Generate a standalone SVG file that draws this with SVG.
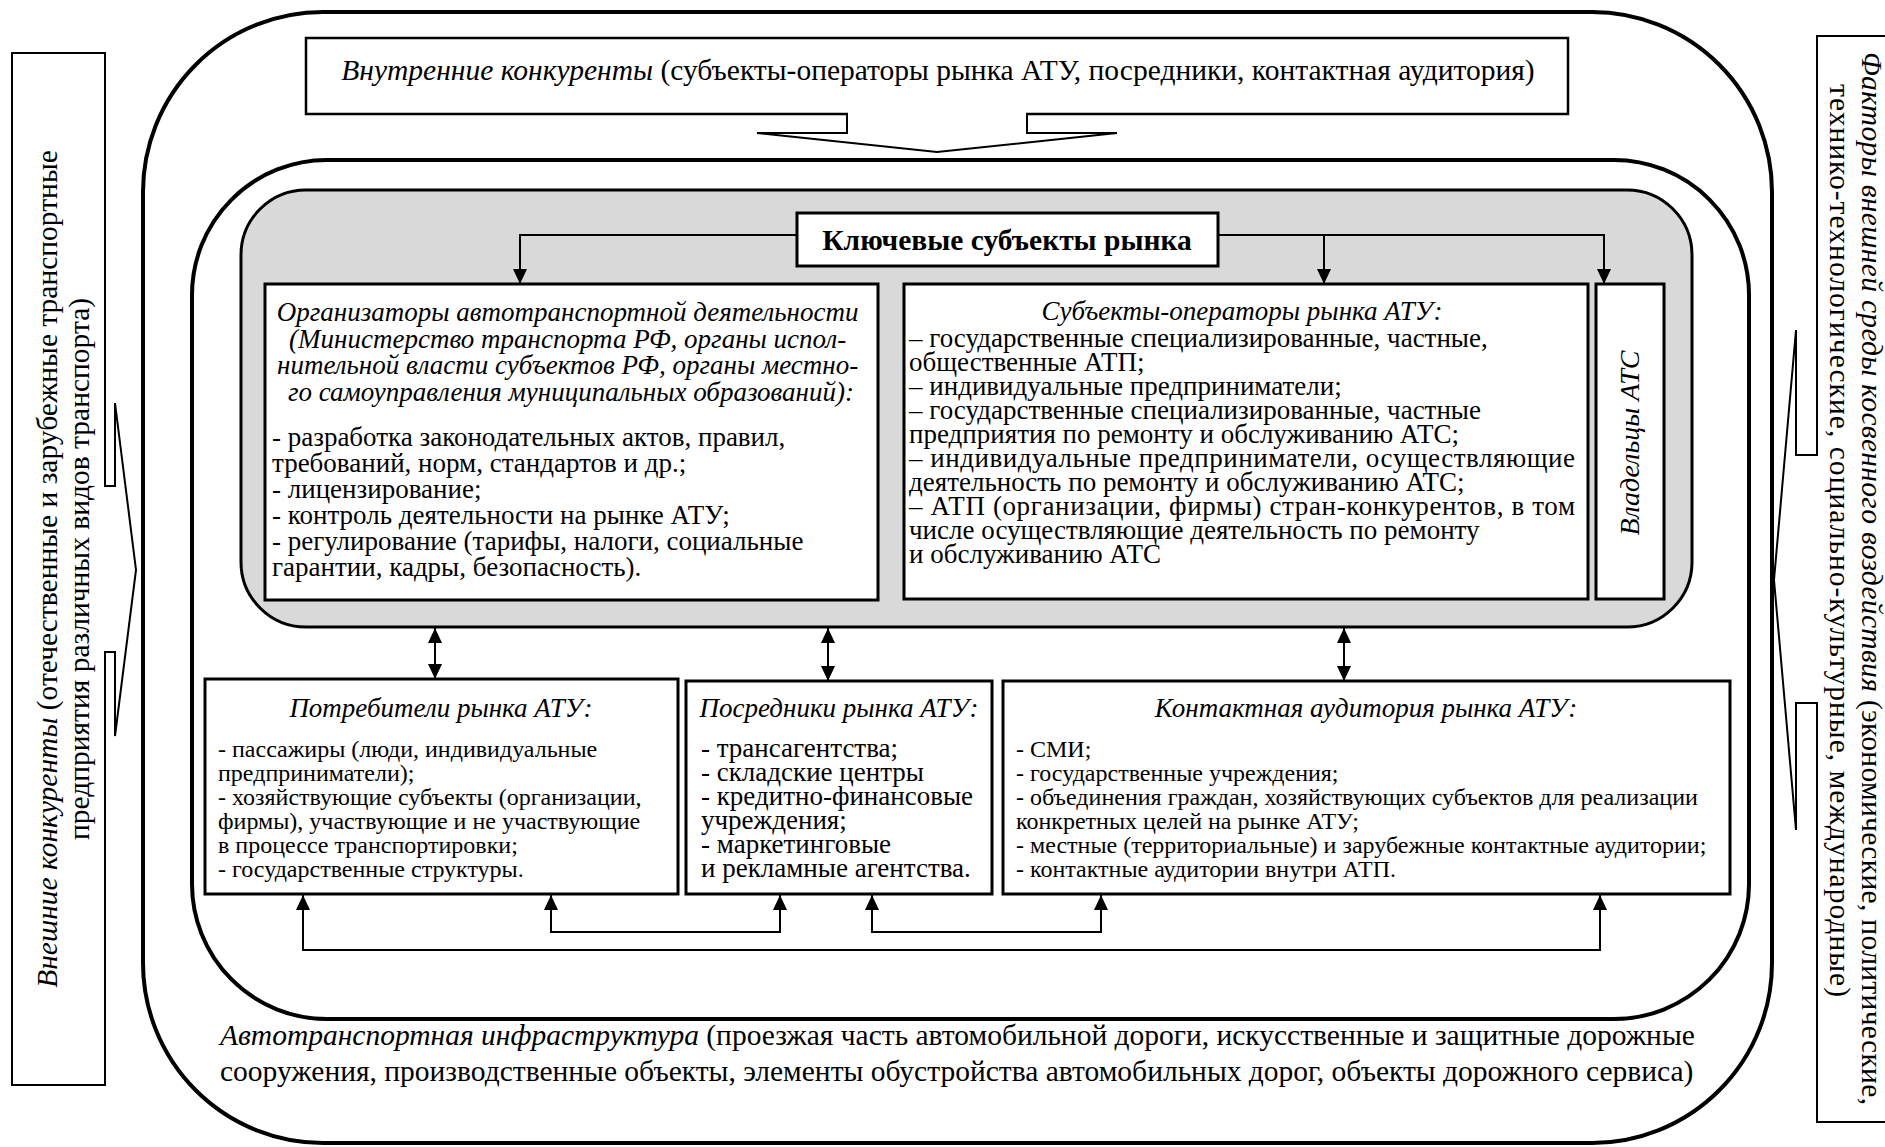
<svg xmlns="http://www.w3.org/2000/svg" width="1885" height="1147" viewBox="0 0 1885 1147">
<defs>
<style>
text{font-family:"Liberation Serif","Times New Roman",serif;fill:#000}
.i{font-style:italic}
.b{font-weight:bold}
.f30{font-size:29.5px}
.f27{font-size:27px}
.f24{font-size:24px}
.box{fill:#fff;stroke:#000;stroke-width:2.5}
.thin{fill:#fff;stroke:#000;stroke-width:2}
.ring{fill:none;stroke:#000;stroke-width:4}
.con{fill:none;stroke:#000;stroke-width:2}
.ar{fill:none;stroke:#000;stroke-width:2;stroke-linejoin:miter}
.node{fill:#fff;stroke:#000;stroke-width:3}
</style>
<marker id="ah" viewBox="0 0 15 14" refX="15" refY="7" markerWidth="15" markerHeight="14" markerUnits="userSpaceOnUse" orient="auto-start-reverse">
<path d="M0,0 L15,7 L0,14 z" fill="#000"/>
</marker>
</defs>
<rect width="1885" height="1147" fill="#fff"/>

<g id="outer-ring">
<rect class="ring" x="143" y="12" width="1629" height="1131" rx="180" ry="180"/>
</g>
<g id="middle-ring">
<rect class="ring" x="192" y="160" width="1557" height="859" rx="135" ry="135"/>
</g>
<g id="key-area">
<rect x="241" y="190" width="1451" height="437" rx="65" ry="65" fill="#d9d9d9" stroke="#000" stroke-width="3"/>
</g>

<g id="external-competitors">
<rect class="thin" x="12" y="53" width="93" height="1032"/>
<rect x="103" y="487" width="4" height="164" fill="#fff"/>
<polyline class="ar" points="105,486 115,486 115,403 136,570 115,736 115,652 105,652"/>
<text class="f30" transform="translate(57,569) rotate(-90)" text-anchor="middle"><tspan class="i">Внешние конкуренты</tspan> (отечественные и зарубежные транспортные</text>
<text class="f30" transform="translate(89,569) rotate(-90)" text-anchor="middle">предприятия различных видов транспорта)</text>
</g>

<g id="environment-factors">
<rect class="thin" x="1817" y="36" width="80" height="1086"/>
<rect x="1815" y="456" width="4" height="246" fill="#fff"/>
<polyline class="ar" points="1817,455 1796,455 1796,330 1774,580 1796,830 1796,703 1817,703"/>
<text class="f30" transform="translate(1862,52) rotate(90)" textLength="1053" lengthAdjust="spacing"><tspan class="i">Факторы внешней среды косвенного воздействия</tspan> (экономические, политические,</text>
<text class="f30" transform="translate(1830,84) rotate(90)" textLength="913" lengthAdjust="spacing">технико-технологические, социально-культурные, международные)</text>
</g>

<g id="internal-competitors">
<rect class="box" x="306" y="38" width="1262" height="76"/>
<rect x="848" y="111" width="178" height="6" fill="#fff"/>
<polyline class="ar" points="847,114 847,133 757,133 937,152 1117,133 1027,133 1027,114"/>
<text class="f30" x="938" y="80" text-anchor="middle"><tspan class="i">Внутренние конкуренты</tspan> (субъекты-операторы рынка АТУ, посредники, контактная аудитория)</text>
</g>

<g id="connectors">
<path class="con" d="M797,235 H520 V284" marker-end="url(#ah)"/>
<path class="con" d="M1218,235 H1604 V284" marker-end="url(#ah)"/>
<path class="con" d="M1324,235 V284" marker-end="url(#ah)"/>
<path class="con" d="M435,628 V679" marker-start="url(#ah)" marker-end="url(#ah)"/>
<path class="con" d="M828,628 V681" marker-start="url(#ah)" marker-end="url(#ah)"/>
<path class="con" d="M1344,628 V681" marker-start="url(#ah)" marker-end="url(#ah)"/>
<path class="con" d="M303,895 V950 H1600 V895" marker-start="url(#ah)" marker-end="url(#ah)"/>
<path class="con" d="M551,895 V932 H780 V895" marker-start="url(#ah)" marker-end="url(#ah)"/>
<path class="con" d="M872,895 V932 H1101 V895" marker-start="url(#ah)" marker-end="url(#ah)"/>
</g>

<g id="key-subjects">
<rect class="node" x="797" y="213" width="421" height="53"/>
<text class="f30 b" x="1007" y="250" text-anchor="middle">Ключевые субъекты рынка</text>
</g>

<g id="organizers">
<rect class="node" x="265" y="284" width="613" height="316"/>
<text class="f27 i" text-anchor="middle">
<tspan x="571" y="321">Организаторы автотранспортной деятельности</tspan>
<tspan x="571" y="347.5">(Министерство транспорта РФ, органы испол-</tspan>
<tspan x="571" y="374">нительной власти субъектов РФ, органы местно-</tspan>
<tspan x="571" y="400.5">го самоуправления муниципальных образований):</tspan>
</text>
<text class="f27">
<tspan x="272" y="446">- разработка законодательных актов, правил,</tspan>
<tspan x="272" y="472">требований, норм, стандартов и др.;</tspan>
<tspan x="272" y="498">- лицензирование;</tspan>
<tspan x="272" y="524">- контроль деятельности на рынке АТУ;</tspan>
<tspan x="272" y="550">- регулирование (тарифы, налоги, социальные</tspan>
<tspan x="272" y="576">гарантии, кадры, безопасность).</tspan>
</text>
</g>

<g id="operators">
<rect class="node" x="904" y="284" width="684" height="315"/>
<text class="f27 i" x="1242" y="320" text-anchor="middle">Субъекты-операторы рынка АТУ:</text>
<text class="f27">
<tspan x="909" y="347">– государственные специализированные, частные,</tspan>
<tspan x="909" y="371">общественные АТП;</tspan>
<tspan x="909" y="395">– индивидуальные предприниматели;</tspan>
<tspan x="909" y="419">– государственные специализированные, частные</tspan>
<tspan x="909" y="443">предприятия по ремонту и обслуживанию АТС;</tspan>
</text>
<text class="f27" x="909" y="467" textLength="666" lengthAdjust="spacing">– индивидуальные предприниматели, осуществляющие</text>
<text class="f27" x="909" y="491">деятельность по ремонту и обслуживанию АТС;</text>
<text class="f27" x="909" y="515" textLength="666" lengthAdjust="spacing">– АТП (организации, фирмы) стран-конкурентов, в том</text>
<text class="f27">
<tspan x="909" y="539">числе осуществляющие деятельность по ремонту</tspan>
<tspan x="909" y="563">и обслуживанию АТС</tspan>
</text>
</g>

<g id="owners">
<rect class="node" x="1596" y="284" width="68" height="315"/>
<text class="i" style="font-size:28px" transform="translate(1639,443) rotate(-90)" text-anchor="middle">Владельцы АТС</text>
</g>

<g id="consumers">
<rect class="node" x="205" y="679" width="473" height="215"/>
<text class="f27 i" x="441" y="717" text-anchor="middle">Потребители рынка АТУ:</text>
<text class="f24">
<tspan x="218" y="757">- пассажиры (люди, индивидуальные</tspan>
<tspan x="218" y="781">предприниматели);</tspan>
<tspan x="218" y="805">- хозяйствующие субъекты (организации,</tspan>
<tspan x="218" y="829">фирмы), участвующие и не участвующие</tspan>
<tspan x="218" y="853">в процессе транспортировки;</tspan>
<tspan x="218" y="877">- государственные структуры.</tspan>
</text>
</g>

<g id="intermediaries">
<rect class="node" x="686" y="681" width="306" height="213"/>
<text class="f27 i" x="839" y="717" text-anchor="middle">Посредники рынка АТУ:</text>
<text class="f27">
<tspan x="701" y="757">- трансагентства;</tspan>
<tspan x="701" y="781">- складские центры</tspan>
<tspan x="701" y="805">- кредитно-финансовые</tspan>
<tspan x="701" y="829">учреждения;</tspan>
<tspan x="701" y="853">- маркетинговые</tspan>
<tspan x="701" y="877">и рекламные агентства.</tspan>
</text>
</g>

<g id="contact-audience">
<rect class="node" x="1003" y="681" width="727" height="213"/>
<text class="f27 i" x="1366" y="717" text-anchor="middle">Контактная аудитория рынка АТУ:</text>
<text class="f24">
<tspan x="1016" y="757">- СМИ;</tspan>
<tspan x="1016" y="781">- государственные учреждения;</tspan>
<tspan x="1016" y="805">- объединения граждан, хозяйствующих субъектов для реализации</tspan>
<tspan x="1016" y="829">конкретных целей на рынке АТУ;</tspan>
<tspan x="1016" y="853">- местные (территориальные) и зарубежные контактные аудитории;</tspan>
<tspan x="1016" y="877">- контактные аудитории внутри АТП.</tspan>
</text>
</g>

<g id="infrastructure">
<text class="f30" x="220" y="1045"><tspan class="i">Автотранспортная инфраструктура</tspan> (проезжая часть автомобильной дороги, искусственные и защитные дорожные</text>
<text class="f30" x="220" y="1081">сооружения, производственные объекты, элементы обустройства автомобильных дорог, объекты дорожного сервиса)</text>
</g>
</svg>
